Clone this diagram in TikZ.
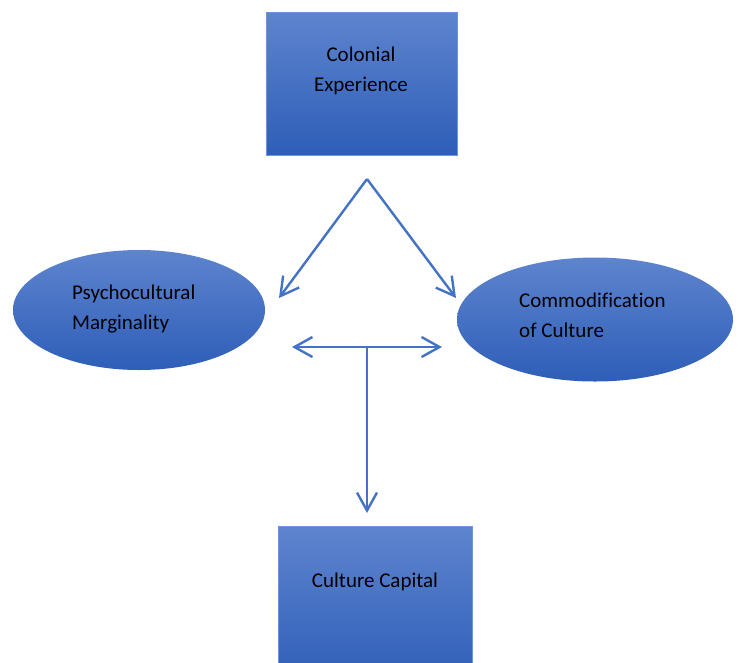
\documentclass[tikz,border=0pt]{standalone}
\usepackage{fontspec}
\setmainfont{Carlito}[Ligatures=NoCommon]
\usetikzlibrary{arrows.meta,shapes.geometric}
\definecolor{topblue}{RGB}{94,132,206}
\definecolor{botblue}{RGB}{46,94,184}
\definecolor{edgeblue}{RGB}{110,148,220}
\definecolor{arrowblue}{RGB}{68,114,196}
\tikzset{
  boxshape/.style={rectangle, draw=edgeblue, line width=0.8pt, top color=topblue, bottom color=botblue, inner sep=0pt},
  ellshape/.style={ellipse, draw=none, top color=topblue, bottom color=botblue, inner sep=0pt},
  lbl/.style={font=\fontsize{21}{30}\selectfont, text=black, inner sep=0pt},
  conn/.style={draw=arrowblue, line width=2.4pt, -{Straight Barb[length=18pt,width=20pt,line width=2.4pt]}},
  conn2/.style={draw=arrowblue, line width=2.4pt, {Straight Barb[length=18pt,width=20pt,line width=2.4pt]}-{Straight Barb[length=18pt,width=20pt,line width=2.4pt]}}
}
\begin{document}
\begin{tikzpicture}[x=1pt,y=-1pt]
\useasboundingbox (0,0) rectangle (739,662);
\clip (0,0) rectangle (739,662);
% shapes
\node[boxshape, minimum width=191pt, minimum height=143pt] (colonial) at (361.5,83.5) {};
\node[lbl, align=center] (colonialtxt) at (361,71) {Colonial\\Experience};
\node[ellshape, minimum width=252pt, minimum height=120pt] (psycho) at (139,310) {};
\node[lbl, align=left, anchor=west] (psychotxt) at (72,309.5) {Psychocultural\\Marginality};
\node[ellshape, minimum width=276pt, minimum height=124pt] (commod) at (595,319.5) {};
\node[lbl, align=left, anchor=west] (commodtxt) at (519,315.5) {Commodification\\of Culture};
\node[boxshape, minimum width=194pt, minimum height=160pt] (capital) at (375,606) {};
\node[lbl] (capitaltxt) at (375,582) {Culture Capital};
% connector points
\coordinate (apex) at (367,179);
\coordinate (lefttip) at (279,298);
\coordinate (righttip) at (456,298);
\coordinate (hleft) at (292,347);
\coordinate (hright) at (442,347);
\coordinate (hmid) at (367,347);
\coordinate (vtip) at (367,513);
% connectors
\draw[conn] (apex) -- (lefttip);
\draw[conn] (apex) -- (righttip);
\draw[conn2] (hleft) -- (hright);
\draw[conn] (hmid) -- (vtip);
\end{tikzpicture}
\end{document}
